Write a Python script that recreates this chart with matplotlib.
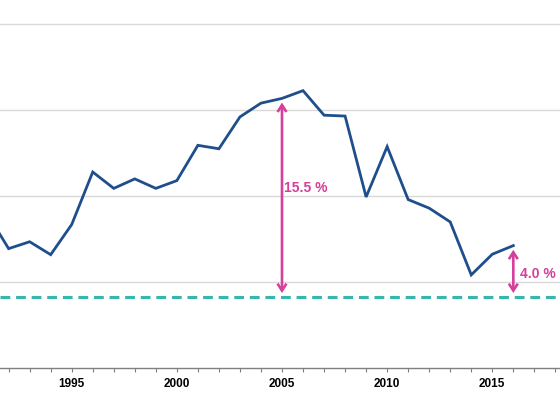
import matplotlib
matplotlib.use("Agg")
import matplotlib.pyplot as plt
from matplotlib.ticker import MultipleLocator

years = list(range(1991, 2017))
values = [157.9, 153.9, 154.7, 153.2, 156.7, 162.8, 160.9, 162.0, 160.9, 161.8,
          165.9, 165.5, 169.2, 170.8, 171.35, 172.25, 169.4, 169.3, 159.9, 165.75,
          159.6, 158.6, 157.0, 150.85, 153.25, 154.25]
baseline = 148.26
gridlevels = [150, 160, 170, 180]
tick_years = [1995, 2000, 2005, 2010, 2015]
annot_years = [2005, 2016]
annot_labels = ["15.5 %", "4.0 %"]

BLUE = "#1f4e8c"
TEAL = "#35b6ae"
MAGENTA = "#d4409a"

plt.rcParams['font.family'] = ['Liberation Sans', 'DejaVu Sans']

fig = plt.figure(figsize=(5.6, 3.95), dpi=100)
ax = fig.add_axes([0, 0.0676, 1, 0.9324])
ax.set_xlim(1991.59, 2018.22)
ax.set_ylim(140, 182.78)

for g in gridlevels:
    ax.axhline(g, color="#d9d9d9", lw=1.0, zorder=1)

ax.axhline(baseline, color=TEAL, lw=2.2, dashes=(3.2, 1.9), zorder=2)
ax.plot(years, values, color=BLUE, lw=2.0, zorder=3, solid_joinstyle='miter')

vals = dict(zip(years, values))
for yr, lab, dx, ty in zip(annot_years, annot_labels, [0.08, 0.3], [160.95, 151.0]):
    ax.annotate("", xy=(yr, vals[yr]), xytext=(yr, baseline),
                arrowprops=dict(arrowstyle="<->,head_length=0.5,head_width=0.32",
                                color=MAGENTA, lw=1.9, shrinkA=3, shrinkB=3,
                                capstyle="butt", joinstyle="miter"),
                zorder=4)
    ax.text(yr + dx, ty, lab, color=MAGENTA, fontsize=10, fontweight="bold",
            ha="left", va="center", zorder=5)

for s in ["top", "right", "left"]:
    ax.spines[s].set_visible(False)
ax.spines["bottom"].set_color("#7f7f7f")
ax.spines["bottom"].set_linewidth(1.0)
ax.set_yticks([])
ax.set_xticks(tick_years)
ax.set_xticklabels([str(t) for t in tick_years], fontsize=8.5, fontweight="bold")
ax.xaxis.set_minor_locator(MultipleLocator(1))
ax.tick_params(axis="x", which="both", direction="out", length=3, width=0.8,
               color="#7f7f7f", pad=4)

fig.savefig("out.png", dpi=100)
